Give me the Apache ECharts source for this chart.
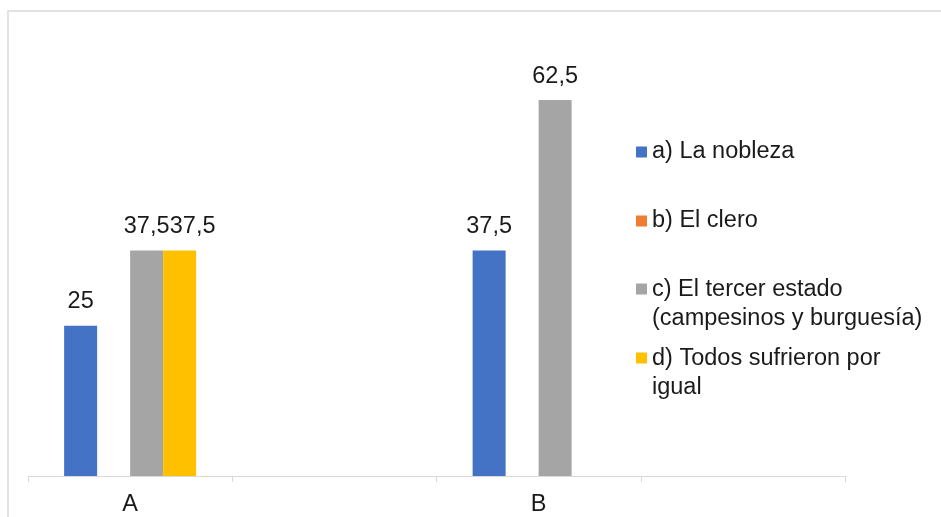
<!DOCTYPE html>
<html>
<head>
<meta charset="utf-8">
<script src="https://cdn.jsdelivr.net/npm/echarts@6/dist/echarts.min.js"></script>
<style>html,body{margin:0;padding:0;background:#fff}#c{width:941px;height:517px}</style>
</head>
<body>
<div id="c"></div>
<script>
const categories = ['A', '', 'B', ' '];
const nobleza = [25, null, 37.5, null];
const clero = [null, null, null, null];
const tercer = [37.5, null, 62.5, null];
const todos = [37.5, null, null, null];
const seriesNames = [
  'a) La nobleza',
  'b) El clero',
  'c) El tercer estado\n(campesinos y burguesía)',
  'd) Todos sufrieron por\nigual'
];
const colors = ['#4472C4', '#ED7D31', '#A5A5A5', '#FFC000'];
const valuesList = [nobleza, clero, tercer, todos];

const FS = 23.5, LH = 29;
const fontFamily = "'Liberation Sans', Arial, sans-serif";
const legendCenters = [152, 221, 290, 359];

const chart = echarts.init(document.getElementById('c'), null, {renderer: 'canvas'});

const series = valuesList.map((vals, i) => ({
  name: seriesNames[i],
  type: 'bar',
  data: vals,
  barWidth: 33,
  barGap: '0%',
  itemStyle: {color: colors[i]},
  label: {
    show: true,
    position: 'top',
    distance: 12,
    offset: i === 3 ? [13, 0] : [0, 0],
    color: '#1a1a1a',
    fontSize: FS,
    fontFamily: fontFamily,
    formatter: p => (p.value == null ? '' : String(p.value).replace('.', ','))
  }
}));

const legends = seriesNames.map((name, i) => {
  const lines = name.split('\n').length;
  const h = lines === 1 ? 11 : LH * lines;
  const top = (LH - 11) / 2 - 1;
  const icon = lines === 1
    ? 'rect'
    : 'path://M0,' + top + 'h11v11h-11zM0,0L0.01,0M0,' + h + 'L0.01,' + h;
  return {
    orient: 'vertical',
    left: 636,
    top: legendCenters[i] - LH / 2,
    padding: 0,
    itemWidth: 11,
    itemHeight: h,
    icon: icon,
    selectedMode: false,
    data: [name],
    textStyle: {fontSize: FS, lineHeight: LH, color: '#1a1a1a', fontFamily: fontFamily}
  };
});

chart.setOption({
  animation: false,
  backgroundColor: '#fff',
  color: colors,
  textStyle: {fontFamily: fontFamily},
  grid: {left: 28, right: 96, top: 55, bottom: 39, containLabel: false},
  xAxis: {
    type: 'category',
    data: categories,
    axisLine: {lineStyle: {color: '#d9d9d9', width: 1}},
    axisTick: {show: true, length: 6, lineStyle: {color: '#d9d9d9'}},
    axisLabel: {color: '#1a1a1a', fontSize: FS, fontFamily: fontFamily, margin: 17},
    splitLine: {show: false}
  },
  yAxis: {
    type: 'value',
    min: 0,
    max: 70,
    show: false,
    splitLine: {show: false}
  },
  legend: legends,
  graphic: [{
    type: 'rect',
    shape: {x: 8, y: 11, width: 1000, height: 1000},
    style: {fill: 'none', stroke: '#d9d9d9', lineWidth: 1.5},
    silent: true,
    z: -10
  }],
  series: series
});
</script>
</body>
</html>
